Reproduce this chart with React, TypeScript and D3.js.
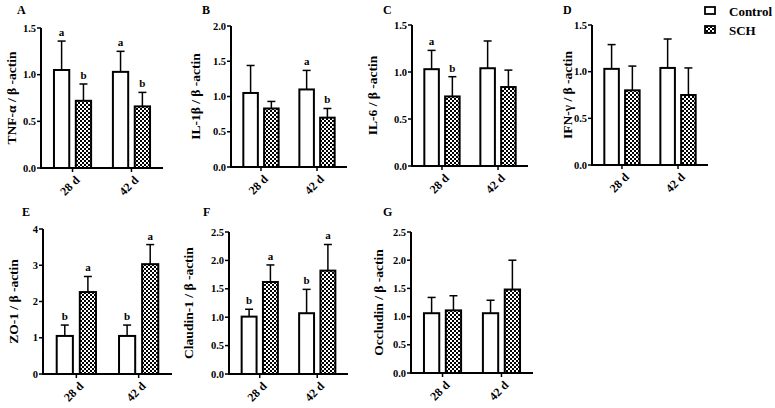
import React from "react";
import * as d3 from "d3";

// ---- data ----
const timePoints = ["28 d", "42 d"];
const groups = ["Control", "SCH"];
const panelIds = ["A", "B", "C", "D", "E", "F", "G"];
const yTitles = [
  "TNF-α  / β -actin",
  "IL-1β  / β -actin",
  "IL-6 / β -actin",
  "IFN-γ  / β -actin",
  "ZO-1 / β -actin",
  "Claudin-1 / β -actin",
  "Occludin / β -actin",
];
const yMaxes = [1.5, 2.0, 1.5, 1.5, 4, 2.5, 2.5];
const yTickSteps = [0.5, 0.5, 0.5, 0.5, 1, 0.5, 0.5];
const controlMean = [
  [1.05, 1.03], [1.05, 1.10], [1.03, 1.04], [1.03, 1.04],
  [1.05, 1.05], [1.01, 1.07], [1.06, 1.06],
];
const controlSD = [
  [0.31, 0.22], [0.39, 0.27], [0.20, 0.29], [0.26, 0.31],
  [0.30, 0.30], [0.13, 0.42], [0.28, 0.23],
];
const schMean = [
  [0.72, 0.66], [0.83, 0.70], [0.74, 0.84], [0.80, 0.75],
  [2.26, 3.03], [1.62, 1.82], [1.11, 1.48],
];
const schSD = [
  [0.18, 0.15], [0.10, 0.13], [0.21, 0.18], [0.26, 0.29],
  [0.43, 0.54], [0.30, 0.46], [0.26, 0.52],
];
const controlLetters = [
  ["a", "a"], ["", "a"], ["a", ""], ["", ""], ["b", "b"], ["b", "b"], ["", ""],
];
const schLetters = [
  ["b", "b"], ["", "b"], ["b", ""], ["", ""], ["a", "a"], ["a", "a"], ["", ""],
];

// ---- layout ----
const panelLeft = [41, 231, 412, 592, 43, 229, 411];
const panelAxisW = [122, 116, 116, 116, 129, 119, 122];
const panelTop = [28, 26, 25, 25, 229, 232, 232];
const panelBottom = [168, 167, 166, 165, 374, 374, 373];
const yLabelX = [11, 195, 372, 567, 13, 188, 378];
const letterPos = [
  [17, 14], [202, 14], [383, 14], [563, 14], [22, 216], [203, 216], [383, 216],
];

const FONT = "'Liberation Serif', 'Times New Roman', serif";

function Panel({ i }: { i: number }) {
  const left = panelLeft[i];
  const w = panelAxisW[i];
  const top = panelTop[i];
  const bottom = panelBottom[i];
  const y = d3.scaleLinear().domain([0, yMaxes[i]]).range([bottom, top]);
  const x0 = d3
    .scaleBand<string>()
    .domain(timePoints)
    .range([left, left + w])
    .paddingInner(0.37)
    .paddingOuter(0.22);
  const x1 = d3
    .scaleBand<string>()
    .domain(groups)
    .range([0, x0.bandwidth()])
    .paddingInner(0.3)
    .paddingOuter(0);
  const ticks = d3.range(0, yMaxes[i] + 1e-9, yTickSteps[i]);
  const fmt = yTickSteps[i] >= 1 ? d3.format("d") : d3.format(".1f");
  const bw = x1.bandwidth();
  const bars: any[] = [];
  timePoints.forEach((t, ti) => {
    groups.forEach((g, gi) => {
      const mean = gi === 0 ? controlMean[i][ti] : schMean[i][ti];
      const sd = gi === 0 ? controlSD[i][ti] : schSD[i][ti];
      const letter = gi === 0 ? controlLetters[i][ti] : schLetters[i][ti];
      const bx = (x0(t) as number) + (x1(g) as number);
      const cx = bx + bw / 2;
      const yTop = y(mean);
      const yErr = y(mean + sd);
      bars.push(
        <g key={t + g}>
          <line x1={cx} x2={cx} y1={yTop} y2={yErr} stroke="#000" strokeWidth={1.5} />
          <line x1={cx - 4} x2={cx + 4} y1={yErr} y2={yErr} stroke="#000" strokeWidth={1.5} />
          <rect
            x={bx}
            y={yTop}
            width={bw}
            height={bottom - yTop}
            fill={gi === 0 ? "#fff" : "url(#checker)"}
            stroke="#000"
            strokeWidth={2}
          />
          {letter && (
            <text x={cx} y={yErr - 5} textAnchor="middle" fontSize={11} fontWeight="bold" fontFamily={FONT}>
              {letter}
            </text>
          )}
        </g>
      );
    });
  });
  return (
    <g>
      <text x={letterPos[i][0]} y={letterPos[i][1]} fontSize={12} fontWeight="bold" fontFamily={FONT}>
        {panelIds[i]}
      </text>
      <text
        transform={`translate(${yLabelX[i]},${(top + bottom) / 2}) rotate(-90)`}
        textAnchor="middle"
        dominantBaseline="central"
        fontSize={13.5}
        fontWeight="bold"
        fontFamily={FONT}
      >
        {yTitles[i]}
      </text>
      {bars}
      {/* y axis */}
      <line x1={left} x2={left} y1={bottom} y2={y(yMaxes[i])} stroke="#000" strokeWidth={2} />
      {ticks.map((v) => (
        <g key={v}>
          <line x1={left - 4} x2={left} y1={y(v)} y2={y(v)} stroke="#000" strokeWidth={1.5} />
          <text
            x={left - 5}
            y={y(v)}
            textAnchor="end"
            dominantBaseline="central"
            fontSize={10.5}
            fontWeight="bold"
            fontFamily={FONT}
          >
            {fmt(v)}
          </text>
        </g>
      ))}
      {/* x axis */}
      <line x1={left - 1} x2={left + w} y1={bottom} y2={bottom} stroke="#000" strokeWidth={2} />
      {timePoints.map((t) => {
        const cx = (x0(t) as number) + x0.bandwidth() / 2;
        return (
          <g key={t}>
            <line x1={cx} x2={cx} y1={bottom} y2={bottom + 4} stroke="#000" strokeWidth={1.5} />
            <text
              transform={`translate(${cx + 5},${bottom + 10}) rotate(-45)`}
              textAnchor="end"
              dominantBaseline="central"
              fontSize={12}
              fontWeight="bold"
              fontFamily={FONT}
            >
              {t}
            </text>
          </g>
        );
      })}
    </g>
  );
}

export default function App() {
  return (
    <svg
      width={775}
      height={408}
      style={{ position: "absolute", left: 0, top: 0, background: "#fff" }}
    >
      <defs>
        <pattern id="checker" width={4} height={4} patternUnits="userSpaceOnUse">
          <rect width={4} height={4} fill="#fff" />
          <rect width={2} height={2} fill="#000" />
          <rect x={2} y={2} width={2} height={2} fill="#000" />
        </pattern>
      </defs>
      <rect width={775} height={408} fill="#fff" />
      {panelIds.map((_, i) => (
        <Panel key={i} i={i} />
      ))}
      {/* legend */}
      {groups.map((g, gi) => (
        <g key={g}>
          <rect
            x={705}
            y={7 + gi * 19}
            width={10}
            height={7}
            fill={gi === 0 ? "#fff" : "url(#checker)"}
            stroke="#000"
            strokeWidth={1.8}
          />
          <text x={729} y={11 + gi * 19} dominantBaseline="central" fontSize={13} fontWeight="bold" fontFamily={FONT}>
            {g}
          </text>
        </g>
      ))}
    </svg>
  );
}
